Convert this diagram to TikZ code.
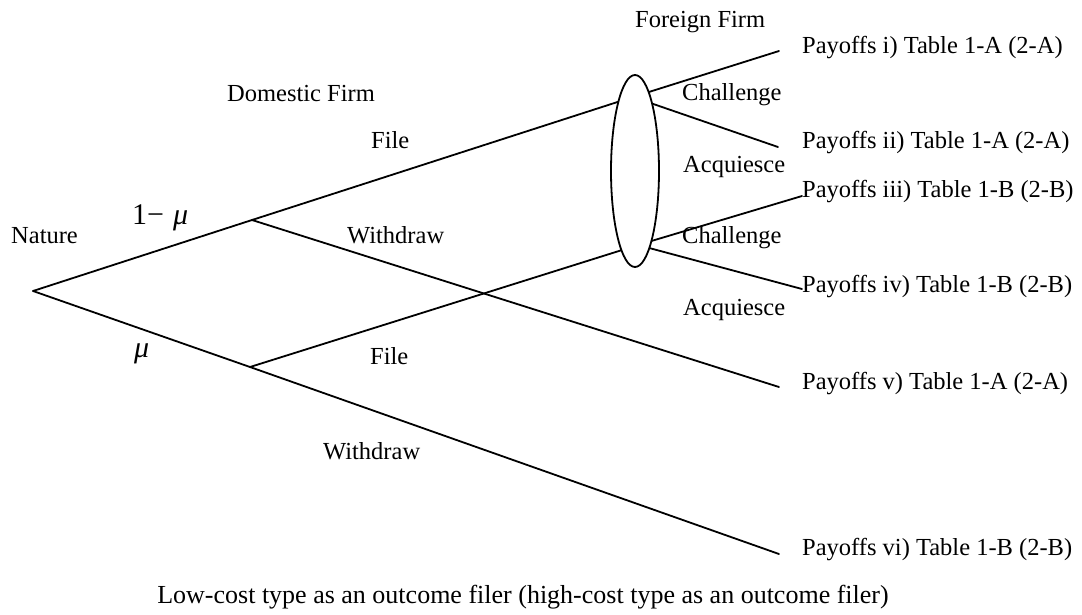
\documentclass[tikz,border=0pt]{standalone}
\usepackage{fontspec}
\setmainfont{Liberation Serif}
\usetikzlibrary{shapes.geometric}
\tikzset{
  branch/.style={line width=1.8pt, line cap=round},
  lbl/.style={anchor=base west, inner sep=0pt, font=\fontsize{24.5}{29}\selectfont},
  mathlbl/.style={anchor=base west, inner sep=0pt, font=\fontsize{30}{35}\selectfont},
  infoset/.style={ellipse, draw, line width=1.8pt, fill=white, minimum width=48pt, minimum height=192pt, inner sep=0pt}
}
\begin{document}
\begin{tikzpicture}[x=1pt,y=-1pt]
\useasboundingbox (0,0) rectangle (1082,614);
% tree nodes
\coordinate (nature) at (33,291);
\coordinate (d1) at (252,220);
\coordinate (d2) at (250,367);
\coordinate (f1) at (633,97);
\coordinate (f2) at (638,245);
\coordinate (e1) at (779,51);
\coordinate (e2) at (778,147);
\coordinate (e3) at (802,196);
\coordinate (e4) at (802,289);
\coordinate (e5) at (779,387);
\coordinate (e6) at (779,554);
% branches
\draw[branch] (nature) -- (d1) -- (f1);
\draw[branch] (nature) -- (d2) -- (e6);
\draw[branch] (d1) -- (e5);
\draw[branch] (d2) -- (f2);
\draw[branch] (f1) -- (e1);
\draw[branch] (f1) -- (e2);
\draw[branch] (f2) -- (e3);
\draw[branch] (f2) -- (e4);
% information set (covers the branches inside it)
\node[infoset] (info) at (635,171) {};
% labels
\node[lbl] (lnature) at (11,243) {Nature};
\node[mathlbl] (lp) at (132,224) {1−\hspace{9pt}\textit{μ}};
\node[mathlbl] (lmu) at (134,357) {\textit{μ}};
\node[lbl] (ldom) at (227,101) {Domestic Firm};
\node[lbl] (lfile1) at (371,148) {File};
\node[lbl] (lwd1) at (347,243) {Withdraw};
\node[lbl] (lfile2) at (370,364) {File};
\node[lbl] (lwd2) at (323,459) {Withdraw};
\node[lbl] (lfor) at (635,27) {Foreign Firm};
\node[lbl] (lch1) at (682,100) {Challenge};
\node[lbl] (laq1) at (683,172) {Acquiesce};
\node[lbl] (lch2) at (682,243) {Challenge};
\node[lbl] (laq2) at (683,315) {Acquiesce};
\node[lbl] (p1) at (802,53) {Payoffs i) Table 1-A (2-A)};
\node[lbl] (p2) at (802,148) {Payoffs ii) Table 1-A (2-A)};
\node[lbl] (p3) at (802,197) {Payoffs iii) Table 1-B (2-B)};
\node[lbl] (p4) at (802,292) {Payoffs iv) Table 1-B (2-B)};
\node[lbl] (p5) at (802,389) {Payoffs v) Table 1-A (2-A)};
\node[lbl] (p6) at (802,555) {Payoffs vi) Table 1-B (2-B)};
\node[lbl, anchor=base, font=\fontsize{26}{31}\selectfont] (cap) at (523,603) {Low-cost type as an outcome filer (high-cost type as an outcome filer)};
\end{tikzpicture}
\end{document}
